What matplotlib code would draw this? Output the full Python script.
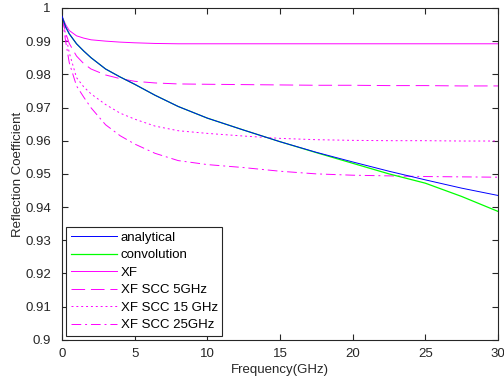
import matplotlib
matplotlib.use("Agg")
import matplotlib.pyplot as plt

# frequency points (GHz)
freq = [0, 0.25, 0.5, 1, 1.5, 2, 3, 4, 5, 6.4, 8, 10, 12.5, 15, 17.5, 20, 22.5, 25, 27.5, 30]

analytical = [0.9975, 0.9943, 0.9922, 0.9892, 0.9870, 0.9850, 0.9816, 0.9792, 0.9770, 0.9737,
              0.9703, 0.9668, 0.9632, 0.9597, 0.9565, 0.9536, 0.9508, 0.9482, 0.9457, 0.9435]
convolution = [0.9975, 0.9943, 0.9922, 0.9892, 0.9870, 0.9850, 0.9816, 0.9792, 0.9770, 0.9737,
               0.9703, 0.9668, 0.9632, 0.9597, 0.9564, 0.9532, 0.9500, 0.9472, 0.9432, 0.9387]
xf = [0.9975, 0.9950, 0.9932, 0.9916, 0.9909, 0.9904, 0.9900, 0.9897, 0.9895, 0.9893,
      0.9892, 0.9892, 0.9892, 0.9892, 0.9892, 0.9892, 0.9892, 0.9892, 0.9892, 0.9892]
xf_scc5 = [0.9975, 0.9925, 0.9893, 0.9855, 0.9832, 0.9816, 0.9798, 0.9787, 0.9779, 0.9774,
           0.9771, 0.9770, 0.9769, 0.9768, 0.9767, 0.9767, 0.9766, 0.9766, 0.9765, 0.9765]
xf_scc15 = [0.9975, 0.9920, 0.9865, 0.9790, 0.9762, 0.9741, 0.9709, 0.9683, 0.9665, 0.9644,
            0.9630, 0.9622, 0.9614, 0.9607, 0.9603, 0.9601, 0.9600, 0.9600, 0.9599, 0.9599]
xf_scc25 = [0.9975, 0.9900, 0.9835, 0.9765, 0.9731, 0.9699, 0.9648, 0.9615, 0.9590, 0.9562,
            0.9540, 0.9528, 0.9519, 0.9508, 0.9500, 0.9496, 0.9494, 0.9492, 0.9491, 0.9490]

xticks = [0, 5, 10, 15, 20, 25, 30]
yticks = [0.9, 0.91, 0.92, 0.93, 0.94, 0.95, 0.96, 0.97, 0.98, 0.99, 1]
ytick_labels = ["0.9", "0.91", "0.92", "0.93", "0.94", "0.95", "0.96",
                "0.97", "0.98", "0.99", "1"]

plt.rcParams["font.family"] = ["Liberation Sans", "DejaVu Sans"]
plt.rcParams["font.size"] = 9.5

fig = plt.figure(figsize=(5.04, 3.78), dpi=100)
ax = fig.add_axes([0.123, 0.101, 0.865, 0.878])

lw = 0.7
ax.plot(freq, analytical, color="#0000ff", lw=lw, zorder=3, label="analytical")
ax.plot(freq, convolution, color="#00ff00", lw=0.9, zorder=2.5, label="convolution")
ax.plot(freq, xf, color="#ff00ff", lw=lw, label="XF")
ax.plot(freq, xf_scc5, color="#ff00ff", lw=lw, ls=(0, (14, 6)), label="XF SCC 5GHz")
ax.plot(freq, xf_scc15, color="#ff00ff", lw=lw, ls=(0, (2, 3)), label="XF SCC 15 GHz")
ax.plot(freq, xf_scc25, color="#ff00ff", lw=lw, ls=(0, (10, 4, 2, 4)), label="XF SCC 25GHz")

ax.set_xlim(0, 30)
ax.set_ylim(0.9, 1)
ax.set_xticks(xticks)
ax.set_yticks(yticks)
ax.set_xticklabels([str(t) for t in xticks])
ax.set_yticklabels(ytick_labels)
ax.tick_params(direction="in", top=True, right=True, length=4, width=0.8,
               colors="#262626", labelcolor="#262626")
ax.tick_params(axis="x", pad=6)
ax.tick_params(axis="y", pad=8)
for s in ax.spines.values():
    s.set_color("#262626")
    s.set_linewidth(0.8)

ax.set_xlabel("Frequency(GHz)", labelpad=3, color="#262626")
ax.set_ylabel("Reflection Coefficient", labelpad=0.5, color="#262626")

leg = ax.legend(loc="lower left", borderaxespad=0.3, fancybox=False, framealpha=1,
                edgecolor="#262626", handlelength=3.5, handletextpad=0.3,
                labelspacing=0.4, borderpad=0.35)
leg.get_frame().set_linewidth(0.8)

fig.savefig("out.png", dpi=100)
